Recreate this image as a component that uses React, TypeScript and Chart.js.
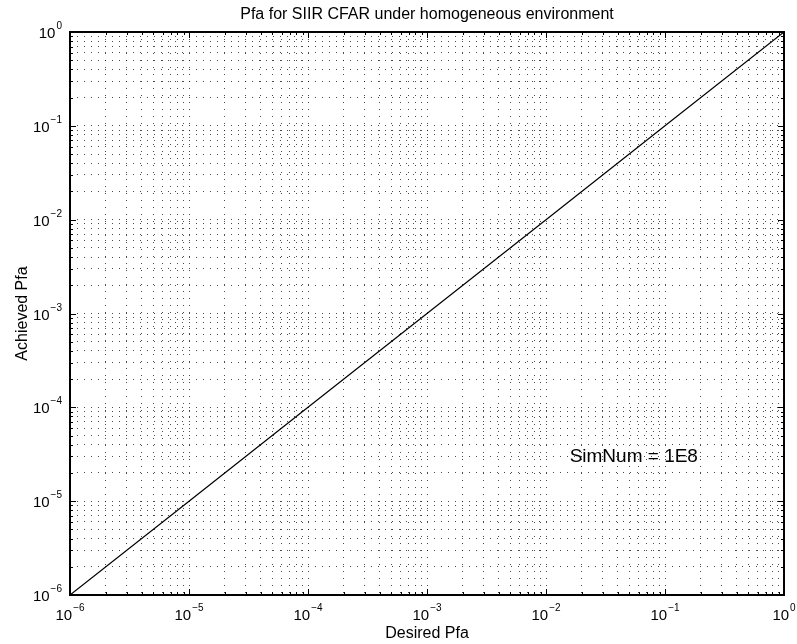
import React, { useEffect, useRef } from "react";
import { Chart, registerables } from "chart.js";

Chart.register(...registerables);

// Simulated false-alarm probabilities (desired vs achieved)
const desiredPfa = [1e-6, 1e-5, 1e-4, 1e-3, 1e-2, 1e-1, 1];
const achievedPfa = [1e-6, 1e-5, 1e-4, 1e-3, 1e-2, 1e-1, 1];

// Decade exponents used for tick labels on both axes
const xDecades = [-6, -5, -4, -3, -2, -1, 0];
const yDecades = [-6, -5, -4, -3, -2, -1, 0];
// Minor tick multipliers inside each decade
const minorSteps = [2, 3, 4, 5, 6, 7, 8, 9];

const titleText = "Pfa for SIIR CFAR under homogeneous environment";
const xTitle = "Desired Pfa";
const yTitle = "Achieved Pfa";
const noteText = "SimNum = 1E8";
const notePos = { x: 1.58e-2, y: 2.6e-5 };

const FONT = '"Liberation Sans", Arial, Helvetica, sans-serif';

function logTicks(decades: number[]) {
  const vals: number[] = [];
  for (let i = 0; i < decades.length; i++) {
    const base = Math.pow(10, decades[i]);
    vals.push(base);
    if (i < decades.length - 1) minorSteps.forEach((m) => vals.push(m * base));
  }
  return vals;
}

const xTickValues = logTicks(xDecades);
const yTickValues = logTicks(yDecades);

function drawPower(
  ctx: CanvasRenderingContext2D,
  exp: number,
  x: number,
  baseY: number,
  align: "center" | "right"
) {
  const base = "10";
  const e = exp < 0 ? "\u2212" + Math.abs(exp) : String(exp);
  ctx.font = `15px ${FONT}`;
  const bw = ctx.measureText(base).width;
  ctx.font = `10px ${FONT}`;
  const ew = ctx.measureText(e).width;
  const total = bw + 1 + ew;
  const x0 = align === "center" ? x - total / 2 : x - total;
  ctx.textAlign = "left";
  ctx.textBaseline = "alphabetic";
  ctx.font = `15px ${FONT}`;
  ctx.fillText(base, x0, baseY);
  ctx.font = `10px ${FONT}`;
  ctx.fillText(e, x0 + bw + 1, baseY - 9);
}

const framePlugin = {
  id: "matlabFrame",
  afterDraw(chart: any) {
    const ctx: CanvasRenderingContext2D = chart.ctx;
    const { left, right, top, bottom } = chart.chartArea;
    const xs = chart.scales.x;
    const ys = chart.scales.y;
    const L = Math.round(left);
    const R = Math.round(right);
    const T = Math.round(top);
    const B = Math.round(bottom);

    ctx.save();
    ctx.strokeStyle = "#000";
    ctx.setLineDash([]);

    // axes box
    ctx.lineWidth = 2;
    ctx.strokeRect(L, T, R - L, B - T);

    // inward ticks on all four sides
    ctx.lineWidth = 1;
    ctx.beginPath();
    xTickValues.forEach((v) => {
      const major = xDecades.some((d) => Math.abs(Math.log10(v) - d) < 1e-9);
      const len = major ? 6 : 3;
      const px = Math.round(xs.getPixelForValue(v)) + 0.5;
      ctx.moveTo(px, B);
      ctx.lineTo(px, B - len);
      ctx.moveTo(px, T);
      ctx.lineTo(px, T + len);
    });
    yTickValues.forEach((v) => {
      const major = yDecades.some((d) => Math.abs(Math.log10(v) - d) < 1e-9);
      const len = major ? 6 : 3;
      const py = Math.round(ys.getPixelForValue(v)) + 0.5;
      ctx.moveTo(L, py);
      ctx.lineTo(L + len, py);
      ctx.moveTo(R, py);
      ctx.lineTo(R - len, py);
    });
    ctx.stroke();

    ctx.fillStyle = "#000";
    // tick labels
    xDecades.forEach((d) => {
      const px = xs.getPixelForValue(Math.pow(10, d));
      drawPower(ctx, d, px, bottom + 25, "center");
    });
    yDecades.forEach((d) => {
      const py = ys.getPixelForValue(Math.pow(10, d));
      drawPower(ctx, d, left - 8, py + 6, "right");
    });

    // title
    ctx.font = `16px ${FONT}`;
    ctx.textAlign = "center";
    ctx.textBaseline = "alphabetic";
    ctx.fillText(titleText, (left + right) / 2, 19);

    // axis titles
    ctx.fillText(xTitle, (left + right) / 2, bottom + 43);
    ctx.save();
    ctx.translate(27, (top + bottom) / 2);
    ctx.rotate(-Math.PI / 2);
    ctx.fillText(yTitle, 0, 0);
    ctx.restore();

    // annotation
    ctx.font = `19px ${FONT}`;
    ctx.textAlign = "left";
    ctx.fillText(noteText, xs.getPixelForValue(notePos.x), ys.getPixelForValue(notePos.y));

    ctx.restore();
  },
};

export default function App() {
  const canvasRef = useRef<HTMLCanvasElement | null>(null);

  useEffect(() => {
    if (!canvasRef.current) return;
    const points = desiredPfa.map((x, i) => ({ x, y: achievedPfa[i] }));
    const gridStyle = {
      display: true,
      drawTicks: false,
      color: "rgba(0,0,0,0.7)",
      lineWidth: 1,
    };
    const chart = new Chart(canvasRef.current, {
      type: "scatter",
      data: {
        datasets: [
          {
            data: points,
            showLine: true,
            borderColor: "#000",
            borderWidth: 1.2,
            pointRadius: 0,
            fill: false,
          },
        ],
      },
      options: {
        responsive: false,
        animation: false,
        layout: { padding: { left: 70, top: 32, right: 13, bottom: 49 } },
        plugins: {
          legend: { display: false },
          tooltip: { enabled: false },
          title: { display: false },
        },
        scales: {
          x: {
            type: "logarithmic",
            min: 1e-6,
            max: 1,
            afterBuildTicks: (s: any) => {
              s.ticks = xTickValues.map((value) => ({ value }));
            },
            ticks: { display: false },
            grid: gridStyle,
            border: { display: false, dash: [1, 6] },
          },
          y: {
            type: "logarithmic",
            min: 1e-6,
            max: 1,
            afterBuildTicks: (s: any) => {
              s.ticks = yTickValues.map((value) => ({ value }));
            },
            ticks: { display: false },
            grid: gridStyle,
            border: { display: false, dash: [1, 6] },
          },
        },
      },
      plugins: [framePlugin],
    } as any);
    return () => chart.destroy();
  }, []);

  return (
    <div style={{ position: "absolute", left: 0, top: 0, width: 797, height: 644, background: "#fff" }}>
      <canvas ref={canvasRef} width={797} height={644} />
    </div>
  );
}
